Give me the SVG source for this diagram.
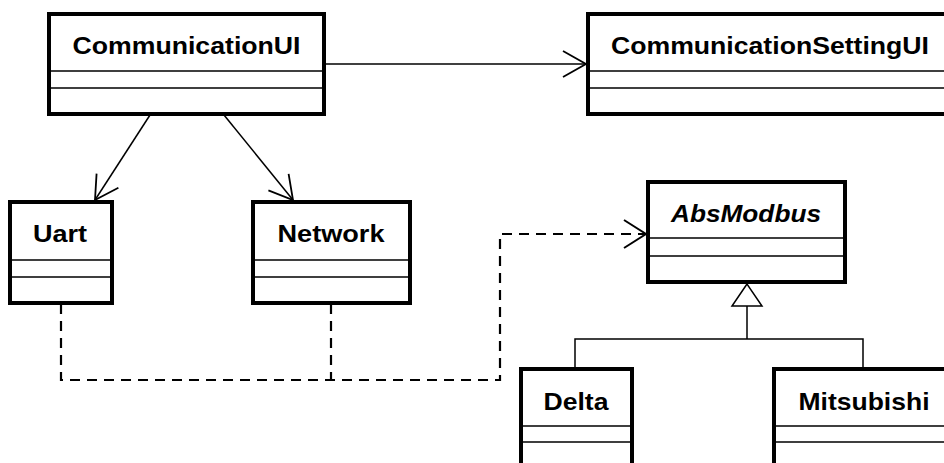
<svg xmlns="http://www.w3.org/2000/svg" width="944" height="463" viewBox="0 0 944 463">
<style>
.box{fill:#fff;stroke:#000;stroke-width:4}
.div{stroke:#000;stroke-width:1.5;fill:none}
.t{font-family:"Liberation Sans",Arial,sans-serif;font-weight:bold;font-size:24px;fill:#000;text-anchor:middle}
.it{font-style:italic}
.c{stroke:#000;stroke-width:1.5;fill:none}
.d{stroke:#000;stroke-width:2.2;fill:none;stroke-dasharray:10 7}
</style>
<defs>
<marker id="open" markerUnits="userSpaceOnUse" viewBox="-28 -16 32 32" markerWidth="32" markerHeight="32" refX="0" refY="0" orient="auto">
<path d="M-23,-13 L0,0 L-23,13" fill="none" stroke="#000" stroke-width="1.8" stroke-dasharray="none"/>
</marker>
</defs>
<rect width="944" height="463" fill="#fff"/>
<g id="connectors">
<path class="c" d="M324,64 H586" marker-end="url(#open)"/>
<path class="c" d="M150,115 L95,200" marker-end="url(#open)"/>
<path class="c" d="M224,115 L293,200" marker-end="url(#open)"/>
<path class="d" d="M61,304 V380 H500 V234 H645"/>
<path class="d" d="M331,304 V380"/>
<path d="M624,220 L646,234 L624,248" fill="none" stroke="#000" stroke-width="2"/>
<path class="c" d="M747,306 V339 M575,369 V339 H863 V369"/>
<path d="M747,284 L732,306 H762 Z" fill="#fff" stroke="#000" stroke-width="1.5"/>
</g>
<g id="CommunicationUI">
<rect class="box" x="49" y="14" width="275" height="100"/>
<path class="div" d="M49,71 H324 M49,88 H324"/>
<text class="t" x="186.5" y="54" textLength="228" lengthAdjust="spacingAndGlyphs">CommunicationUI</text>
</g>
<g id="CommunicationSettingUI">
<rect class="box" x="588" y="14" width="364" height="100"/>
<path class="div" d="M588,71 H952 M588,88 H952"/>
<text class="t" x="770" y="54" textLength="318" lengthAdjust="spacingAndGlyphs">CommunicationSettingUI</text>
</g>
<g id="Uart">
<rect class="box" x="10" y="202" width="102" height="101"/>
<path class="div" d="M10,260 H112 M10,277 H112"/>
<text class="t" x="60" y="242" textLength="54" lengthAdjust="spacingAndGlyphs">Uart</text>
</g>
<g id="Network">
<rect class="box" x="253" y="202" width="157" height="101"/>
<path class="div" d="M253,260 H410 M253,277 H410"/>
<text class="t" x="331" y="242" textLength="107" lengthAdjust="spacingAndGlyphs">Network</text>
</g>
<g id="AbsModbus">
<rect class="box" x="648" y="182" width="197" height="100"/>
<path class="div" d="M648,238 H845 M648,256 H845"/>
<text class="t it" x="746" y="222" textLength="150" lengthAdjust="spacingAndGlyphs">AbsModbus</text>
</g>
<g id="Delta">
<rect class="box" x="521" y="369" width="111" height="120"/>
<path class="div" d="M521,426 H632 M521,442 H632"/>
<text class="t" x="576" y="410" textLength="65" lengthAdjust="spacingAndGlyphs">Delta</text>
</g>
<g id="Mitsubishi">
<rect class="box" x="774" y="369" width="180" height="120"/>
<path class="div" d="M774,426 H954 M774,442 H954"/>
<text class="t" x="864" y="410" textLength="131" lengthAdjust="spacingAndGlyphs">Mitsubishi</text>
</g>
</svg>
